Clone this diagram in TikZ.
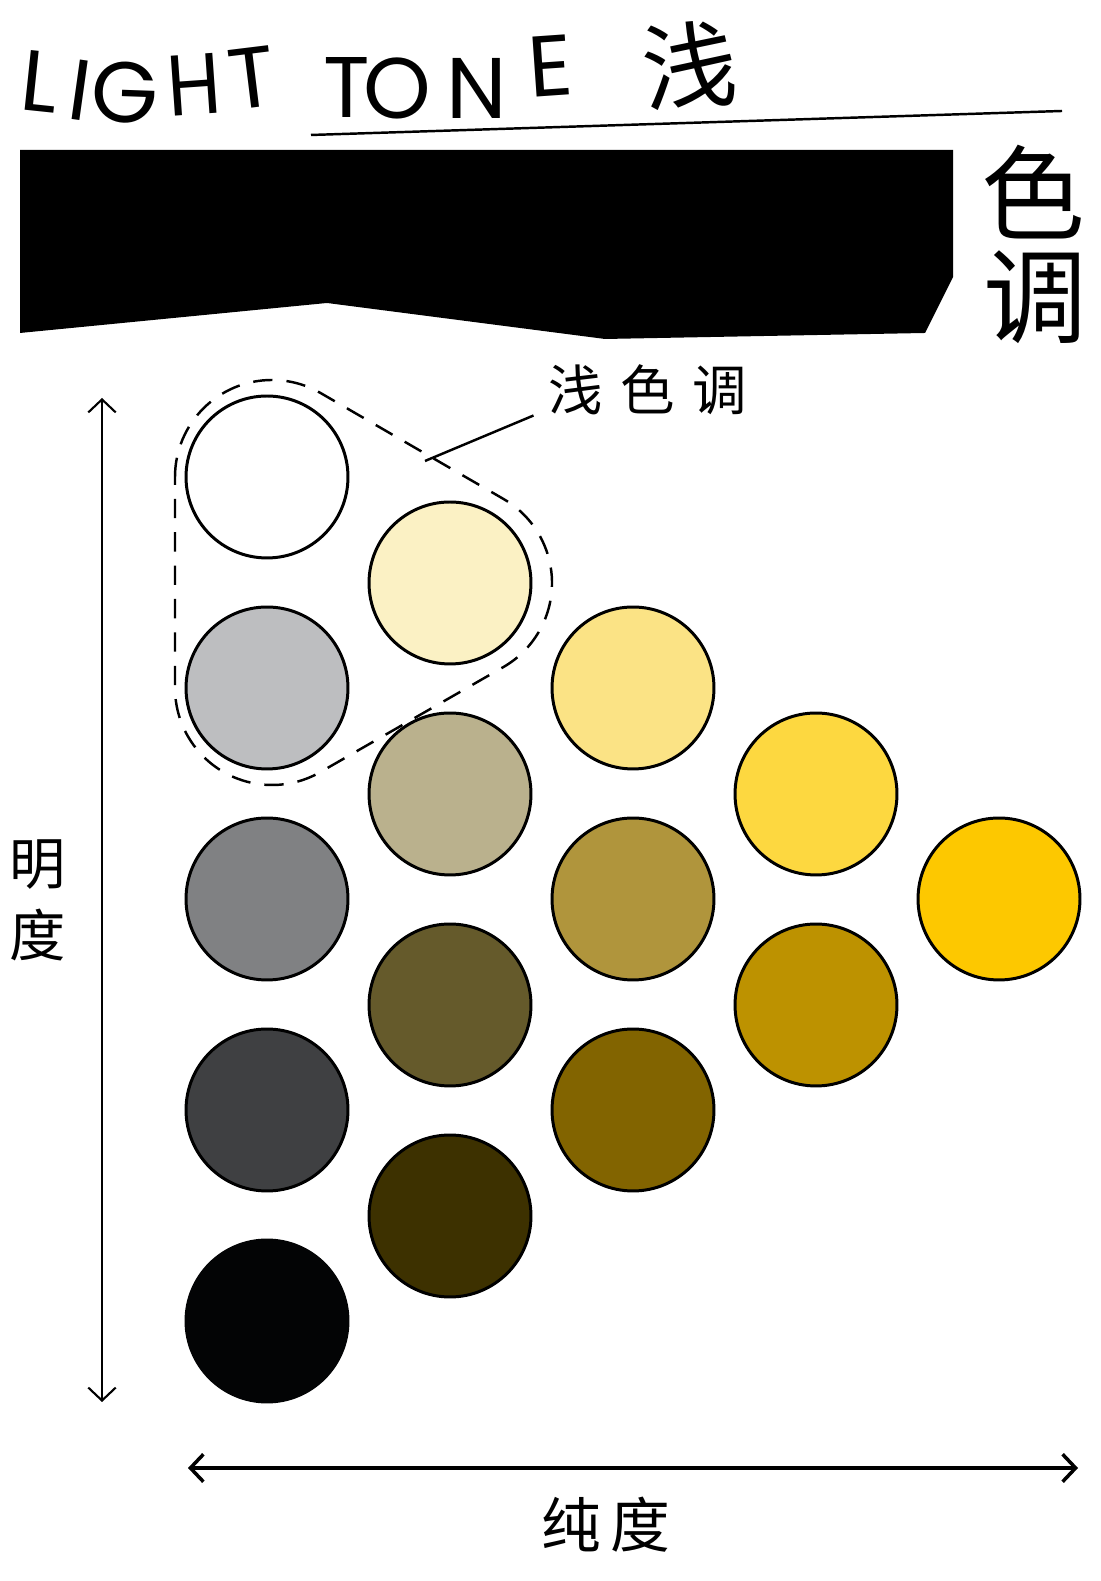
\documentclass[tikz,border=0pt]{standalone}
\usepackage{fontspec}
\usepackage{xcolor}
\usetikzlibrary{arrows.meta, positioning, calc}
\newfontfamily\cjk{Noto Sans CJK SC}
\newfontfamily\titlefont{Poppins}
\definecolor{grayB}{HTML}{BDBEC0}
\definecolor{grayC}{HTML}{808183}
\definecolor{grayD}{HTML}{3F4042}
\definecolor{grayE}{HTML}{030405}
\definecolor{creamA}{HTML}{FBF1C4}
\definecolor{oliveB}{HTML}{BAB18D}
\definecolor{oliveC}{HTML}{655A2B}
\definecolor{oliveD}{HTML}{3D3100}
\definecolor{yelA}{HTML}{FBE385}
\definecolor{ochreB}{HTML}{B0953C}
\definecolor{ochreC}{HTML}{826400}
\definecolor{sunA}{HTML}{FDD840}
\definecolor{goldB}{HTML}{BD9200}
\definecolor{pureA}{HTML}{FDC800}

\begin{document}
\begin{tikzpicture}[x=0.02cm, y=0.02cm,
  dot/.style={circle, draw, line width=1.7pt, minimum size=3.24cm, inner sep=0pt},
  letter/.style={font=\titlefont\fontsize{49}{49}\selectfont, inner sep=0pt},
  han/.style={font=\cjk\fontsize{#1}{#1}\selectfont, inner sep=0pt},
  axis/.style={line width=#1, {Straight Barb[length=0.26cm,width=0.55cm]}-{Straight Barb[length=0.26cm,width=0.55cm]}}]
\fill[white] (0,0) rectangle (1100,1581);
\useasboundingbox (0,0) rectangle (1100,1581);

% 标题
\node[letter, rotate=-6] (tL) at (40,1499) {L};
\node[letter, rotate=-8] (tI) at (80,1491) {I};
\node[letter, rotate=-2] (tG) at (125,1488) {G};
\node[letter, rotate=4, xscale=0.9] (tH) at (194,1496) {H};
\node[letter, rotate=7] (tT) at (252,1503) {T};
\node[letter] (tT2) at (347,1493) {T};
\node[letter] (tO) at (397,1493) {O};
\node[letter] (tN) at (477,1493) {N};
\node[letter, rotate=4] (tE) at (550,1515) {E};
\node[han=54, rotate=5] (tqian) at (690,1515) {浅};
\draw[line width=1.4pt] (311,1446) -- (1062,1470);

% 黑色色块
\fill[black] (20,1431) -- (953,1431) -- (953,1304) -- (925,1248)
  -- (605,1242) -- (327,1278) -- (20,1248) -- cycle;
\node[han=59] (se) at (1033,1389) {色};
\node[han=59] (diao) at (1035,1284) {调};

% 无彩色
\node[dot, fill=white] (g0) at (267,1104) {};
\node[dot, fill=grayB] (g1) at (267,893) {};
\node[dot, fill=grayC] (g2) at (267,682) {};
\node[dot, fill=grayD] (g3) at (267,471) {};
\node[dot, fill=grayE, draw=grayE] (g4) at (267,260) {};

% 黄色系
\node[dot, fill=creamA] (y0) at (450,998) {};
\node[dot, fill=oliveB] (y1) at (450,787) {};
\node[dot, fill=oliveC] (y2) at (450,576) {};
\node[dot, fill=oliveD] (y3) at (450,365) {};
\node[dot, fill=yelA] (m0) at (633,893) {};
\node[dot, fill=ochreB] (m1) at (633,682) {};
\node[dot, fill=ochreC] (m2) at (633,471) {};
\node[dot, fill=sunA] (s0) at (816,787) {};
\node[dot, fill=goldB] (s1) at (816,576) {};
\node[dot, fill=pureA] (p0) at (999,682) {};

% 浅色调范围
\draw[line width=1.4pt, dash pattern=on 11pt off 8pt]
  ($(g0)+(5,0)+(180:97)$) arc[start angle=180, end angle=60, radius=97]
  -- ($(y0)+(5,0)+(60:97)$) arc[start angle=60, end angle=-60, radius=97]
  -- ($(g1)+(5,0)+(-60:97)$) arc[start angle=-60, end angle=-180, radius=97]
  -- cycle;
\node[han=31, inner xsep=0.3cm] (lbl) at (648,1191) {浅\hspace{0.32em}色\hspace{0.32em}调};
\coordinate (tip) at (425,1120);
\draw[line width=1.4pt] (lbl.south west) -- (tip);

% 明度 / 纯度
\coordinate (vtop) at (102,1183);
\coordinate (vbot) at (102,179);
\draw[axis=1.2pt] (vtop) -- (vbot);
\node[han=32] (ming) at (38,716) {明};
\node[han=32] (du) at (38,646) {度};
\coordinate (hleft) at (188,113);
\coordinate (hright) at (1078,113);
\draw[axis=2pt] (hleft) -- (hright);
\node[han=34] (chun) at (571,56) {纯};
\node[han=34] (du2) at (640,56) {度};
\end{tikzpicture}
\end{document}
